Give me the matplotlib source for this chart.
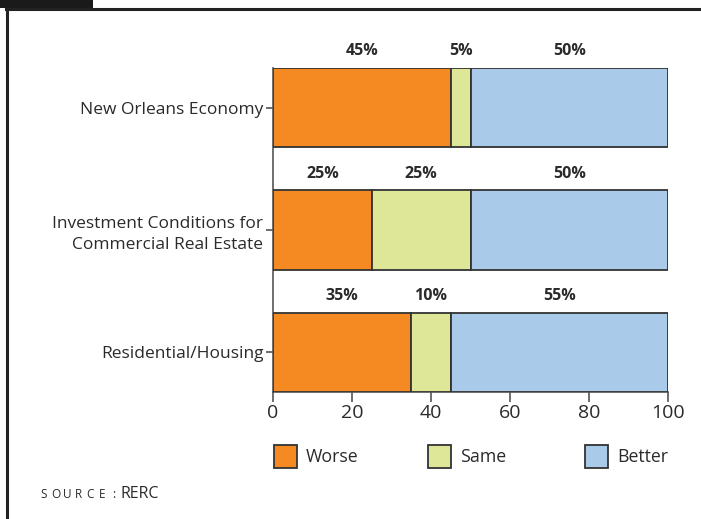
import matplotlib
matplotlib.use("Agg")
import matplotlib.pyplot as plt
from matplotlib.patches import Rectangle
from matplotlib.lines import Line2D
import numpy as np

categories = ["New Orleans Economy",
              "Investment Conditions for\nCommercial Real Estate",
              "Residential/Housing"]
series = ["Worse", "Same", "Better"]
worse = [45, 25, 35]
same = [5, 25, 10]
better = [50, 50, 55]
colors = ["#F58A22", "#DEE697", "#AACAE9"]
xticks = [0, 20, 40, 60, 80, 100]

plt.rcParams["font.family"] = ["Open Sans", "DejaVu Sans"]
txt = "#2a2a2a"
edge = "#333333"

W, H = 701, 519
fig = plt.figure(figsize=(W / 100, H / 100), dpi=100)

# frame lines around the panel
fig.add_artist(Rectangle((0, 1 - 8 / H), 93 / W, 8 / H, transform=fig.transFigure,
                         color="#1a1a1a", lw=0))
fig.add_artist(Line2D([6 / W, 1], [1 - 9 / H, 1 - 9 / H], transform=fig.transFigure,
                      color="#222222", lw=2.2))
fig.add_artist(Line2D([7 / W, 7 / W], [0, 1 - 9 / H], transform=fig.transFigure,
                      color="#222222", lw=2.2))

ax = fig.add_axes([273 / W, 1 - 392 / H, (668 - 273) / W, (392 - 68) / H])

h = 0.645
y = np.arange(len(categories))
data = [worse, same, better]
left = np.zeros(len(categories))
for vals, c, name in zip(data, colors, series):
    ax.barh(y, vals, left=left, height=h, color=c, edgecolor=edge, linewidth=1.3,
            label=name, zorder=3)
    for yi, l, v in zip(y, left, vals):
        ax.text(l + v / 2, yi - h / 2 - 0.07, f"{v}%", ha="center", va="bottom",
                fontsize=11.5, fontweight="bold", color=txt)
    left = left + np.array(vals)

ax.set_xlim(0, 100)
ax.set_ylim(len(categories) - 1 + h / 2, -h / 2)
ax.set_xticks(xticks)
ax.set_yticks(y)
ax.set_yticklabels(categories, ha="right", multialignment="right",
                   fontsize=12.5, color=txt, linespacing=1.45)
ax.tick_params(axis="x", length=7, width=1.2, color="#555555", labelsize=14,
               labelcolor=txt, pad=2)
ax.tick_params(axis="y", length=5, width=1.2, color="#555555", pad=2)
for s in ["top", "right"]:
    ax.spines[s].set_visible(False)
ax.spines["left"].set_color("#555555")
ax.spines["bottom"].set_color("#555555")
ax.spines["left"].set_linewidth(1.2)
ax.spines["bottom"].set_linewidth(1.2)

# legend row
leg_x = [274, 428, 585]
for lx, c, name in zip(leg_x, colors, series):
    fig.add_artist(Rectangle((lx / W, 1 - 468 / H), 23 / W, 23 / H,
                             transform=fig.transFigure, facecolor=c,
                             edgecolor=edge, lw=1.3))
    fig.text((lx + 32) / W, 1 - 457 / H, name, ha="left", va="center",
             fontsize=12.8, color=txt)

# letter-spaced source caption
for i, ch in enumerate("SOURCE:"):
    fig.text((44 + 11.6 * i) / W, 1 - 494 / H, ch, ha="center", va="center",
             fontsize=8.5, color=txt)
fig.text(121 / W, 1 - 494 / H, "RERC", ha="left", va="center",
         fontsize=11.5, color=txt)

fig.savefig("out.png", dpi=100)
